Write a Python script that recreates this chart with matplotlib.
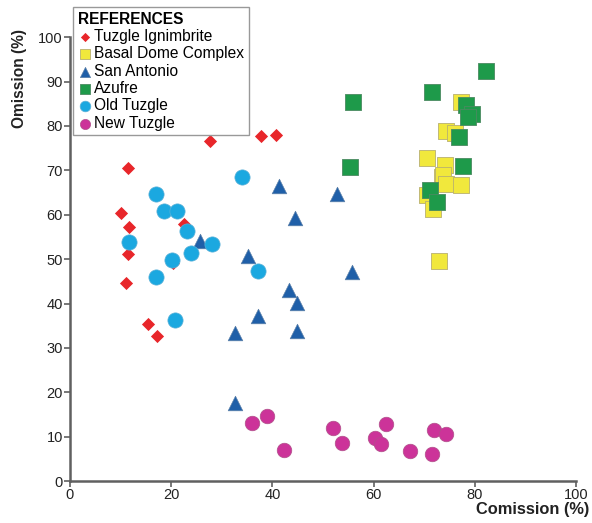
import numpy as np
import matplotlib.pyplot as plt

plt.rcParams['font.family'] = ['Liberation Sans', 'DejaVu Sans']

# Tuzgle Ignimbrite
ign_x = [10.1, 11.5, 11.7, 11.5, 11.0, 15.5, 17.2, 22.5, 20.4, 27.7, 37.7, 40.7]
ign_y = [60.5, 70.6, 57.2, 51.1, 44.7, 35.5, 32.6, 58.0, 49.2, 76.7, 77.8, 77.9]

# Basal Dome Complex
bdc_x = [77.3, 74.4, 76.1, 70.5, 74.1, 73.5, 73.8, 74.4, 77.2, 70.5, 71.8, 73.0]
bdc_y = [85.4, 78.8, 78.3, 72.8, 71.2, 68.5, 69.0, 67.0, 66.8, 64.4, 61.2, 49.6]

# San Antonio
sa_x = [25.7, 35.1, 41.4, 52.7, 44.5, 55.7, 43.3, 44.9, 37.2, 32.7, 44.8, 32.6]
sa_y = [54.0, 50.6, 66.5, 64.6, 59.2, 47.0, 43.1, 40.1, 37.3, 33.4, 33.9, 17.6]

# Azufre
az_x = [82.2, 71.6, 78.2, 79.4, 78.7, 76.9, 77.7, 71.2, 72.6, 56.0, 55.3]
az_y = [92.4, 87.6, 84.8, 82.8, 82.1, 77.5, 70.9, 65.5, 62.9, 85.5, 70.8]

# Old Tuzgle
old_x = [34.1, 17.0, 18.6, 21.1, 23.1, 11.7, 28.0, 24.0, 20.1, 17.0, 20.8, 37.1]
old_y = [68.5, 64.6, 60.8, 60.9, 56.4, 53.8, 53.5, 51.3, 49.8, 46.0, 36.3, 47.4]

# New Tuzgle
new_x = [36.0, 39.0, 42.4, 52.0, 53.7, 60.2, 61.5, 62.5, 67.2, 71.5, 72.0, 74.3]
new_y = [13.0, 14.7, 7.0, 11.9, 8.6, 9.8, 8.3, 12.8, 6.8, 6.1, 11.5, 10.6]

fig = plt.figure(figsize=(5.92, 5.23), dpi=100)
ax = fig.add_axes([0.118, 0.080, 0.855, 0.849])

ax.scatter(ign_x, ign_y, marker='D', s=45, color='#e8262a', linewidths=0, label='Tuzgle Ignimbrite', zorder=3)
ax.scatter(bdc_x, bdc_y, marker='s', s=120, color='#f1e83c', edgecolors='#b8b070', linewidths=0.6, label='Basal Dome Complex', zorder=3)
ax.scatter(sa_x, sa_y, marker='^', s=110, color='#1f5fa8', edgecolors='#5a7fa8', linewidths=0.5, label='San Antonio', zorder=3)
ax.scatter(az_x, az_y, marker='s', s=120, color='#1e9a4a', edgecolors='#4a8a60', linewidths=0.6, label='Azufre', zorder=3)
ax.scatter(old_x, old_y, marker='o', s=120, color='#1ba8e0', edgecolors='#5ab0d8', linewidths=0.5, label='Old Tuzgle', zorder=3)
ax.scatter(new_x, new_y, marker='o', s=110, color='#cc3399', edgecolors='#b0508a', linewidths=0.5, label='New Tuzgle', zorder=3)

ax.set_xlim(0, 100)
ax.set_ylim(0, 100)
ax.set_xticks(np.arange(0, 101, 20))
ax.set_yticks(np.arange(0, 101, 10))
ax.spines['top'].set_visible(False)
ax.spines['right'].set_visible(False)
for sp in ['left', 'bottom']:
    ax.spines[sp].set_linewidth(1.8)
    ax.spines[sp].set_color('#606060')
ax.tick_params(axis='both', labelsize=10.5, colors='#606060', labelcolor='#222222', width=1.2, length=4, pad=1)

fig.text(0.995, 0.012, 'Comission (%)', ha='right', va='bottom', fontsize=11.8, fontweight='bold', color='#222222')
fig.text(0.020, 0.945, 'Omission (%)', rotation=90, ha='left', va='top', fontsize=11.2, fontweight='bold', color='#222222')

leg = ax.legend(loc='upper left', bbox_to_anchor=(0.0, 1.075), title='REFERENCES', fontsize=11.2,
                title_fontproperties={'weight': 'bold', 'size': 11.2}, markerscale=0.7,
                handletextpad=0.05, handlelength=1.0, labelspacing=0.15, borderpad=0.3,
                fancybox=False, framealpha=1, edgecolor='#999999', borderaxespad=0.2)
leg._legend_box.align = 'left'
leg.get_frame().set_linewidth(1.0)

fig.savefig('out.png', dpi=100)
